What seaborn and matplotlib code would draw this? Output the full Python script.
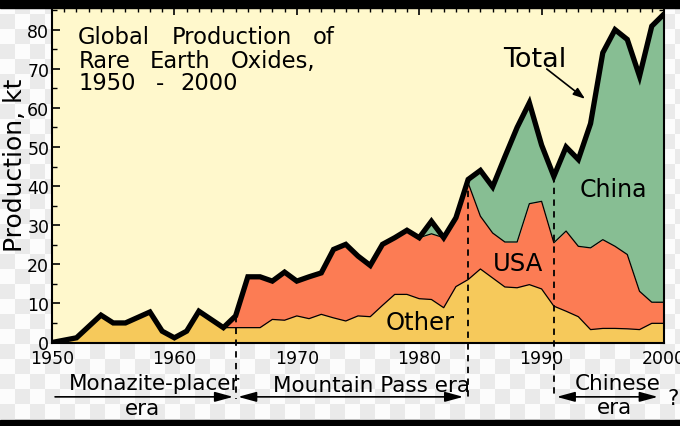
import numpy as np
import matplotlib
matplotlib.use("Agg")
import matplotlib.pyplot as plt
import seaborn as sns
from matplotlib.ticker import MultipleLocator
from matplotlib.patches import Rectangle

# ---------------- data (kt of rare earth oxides) ----------------
years = list(range(1950, 2001))
other = [0.0, 0.6, 1.2, 4.1, 7.0, 5.0, 5.0, 6.4, 7.8, 2.9,
         1.2, 2.9, 8.0, 5.9, 3.8, 3.8, 3.8, 3.8, 5.9, 5.7,
         6.8, 6.1, 7.2, 6.3, 5.5, 6.8, 6.6, 9.5, 12.3, 12.3,
         11.2, 11.0, 8.9, 14.3, 16.1, 18.8, 16.5, 14.2, 14.0, 14.8,
         13.7, 9.3, 8.0, 6.6, 3.3, 3.6, 3.6, 3.5, 3.3, 4.9,
         4.9]
usa = [0.0, 0.0, 0.0, 0.0, 0.0, 0.0, 0.0, 0.0, 0.0, 0.0,
       0.0, 0.0, 0.0, 0.0, 0.0, 3.0, 13.0, 13.0, 9.8, 12.3,
       8.9, 10.7, 10.6, 17.5, 19.6, 15.3, 13.1, 15.6, 14.5, 16.4,
       15.6, 16.8, 17.9, 17.6, 24.7, 13.5, 11.5, 11.5, 11.7, 20.7,
       22.4, 16.2, 20.5, 18.0, 20.9, 22.7, 21.0, 19.0, 9.8, 5.4,
       5.4]
china = [0.0] * 31 + [3.2, 0.0, 0.0, 0.9, 11.7, 11.8, 21.8, 29.3, 25.8,
                      14.4, 17.0, 21.5, 22.2, 31.8, 47.8, 55.4, 55.0, 55.0, 70.6,
                      73.7]
era_bounds = [1965, 1984, 1991]

other_a = np.array(other)
usa_top = other_a + np.array(usa)
total = usa_top + np.array(china)

# ---------------- style ----------------
sns.set_style("ticks")
plt.rcParams["font.family"] = ["DejaVu Sans"]
plt.rcParams["text.color"] = "black"
plt.rcParams["xtick.color"] = "black"
plt.rcParams["ytick.color"] = "black"

c_bg = "#FFF8CC"
c_other = "#F6C95B"
c_usa = "#FC7C54"
c_china = "#87BE93"

W, H = 680, 427
fig = plt.figure(figsize=(W / 100, H / 100), dpi=100)

# transparent-style checkerboard background
yy, xx = np.mgrid[0:H, 0:W]
chk = ((yy // 15 + xx // 15) % 2)[..., None]
img = np.where(chk == 1, 0.92, 0.99) * np.ones((H, W, 3))
fig.figimage(img, 0, 0, zorder=-5)

ax = fig.add_axes([52 / W, (H - 343.5) / H, (664 - 52) / W, (343.5 - 8) / H])
ax.set_zorder(2)
ax.set_facecolor(c_bg)

ax.fill_between(years, 0, other_a, color=c_other, lw=0, zorder=1)
ax.fill_between(years, other_a, usa_top, color=c_usa, lw=0, zorder=1)
ax.fill_between(years, usa_top, total, color=c_china, lw=0, zorder=1)
ax.plot(years, other_a, color="black", lw=0.9, zorder=2)
ax.plot(years, usa_top, color="black", lw=0.9, zorder=2)
sns.lineplot(x=years, y=total, color="black", linewidth=3.8, ax=ax,
             solid_joinstyle="miter", zorder=4)

ax.set_xlim(1950, 2000)
ax.set_ylim(0, 85.8)
ax.set_xlabel("")
ax.set_ylabel("")

ax.xaxis.set_major_locator(MultipleLocator(10))
ax.xaxis.set_minor_locator(MultipleLocator(1))
ax.yaxis.set_major_locator(MultipleLocator(10))
ax.yaxis.set_minor_locator(MultipleLocator(5))
ax.tick_params(which="both", direction="in", top=True, right=True,
               color="black", labelsize=12.5, labelcolor="black")
ax.tick_params(which="major", length=6, width=1.2)
ax.tick_params(which="minor", length=3.5, width=1.0)
ax.tick_params(axis="x", pad=5)
ax.tick_params(axis="y", pad=2)
for s in ax.spines.values():
    s.set_linewidth(1.5)
    s.set_color("black")
    s.set_zorder(5)

# era boundaries (dashed), from the total curve down below the axis
for yr in era_bounds:
    ax.plot([yr, yr], [total[years.index(yr)], -14.45], color="black",
            lw=1.3, ls=(0, (3.5, 3)), clip_on=False, zorder=3)

# labels inside the plot
ax.text(1989.46, 70.8, "Total", fontsize=19.5, ha="center", va="baseline", zorder=6)
ax.annotate("", xy=(1993.55, 62.3), xytext=(1990.42, 69.95),
            arrowprops=dict(arrowstyle="-|>,head_length=0.7,head_width=0.25",
                            color="black", lw=1.2, shrinkA=0, shrinkB=0,
                            mutation_scale=10), zorder=6)
ax.text(1995.9, 37.5, "China", fontsize=17, ha="center", va="baseline", zorder=6)
ax.text(1988.11, 18.6, "USA", fontsize=17.5, ha="center", va="baseline", zorder=6)
ax.text(1980.07, 3.45, "Other", fontsize=17.5, ha="center", va="baseline", zorder=6)

# title block, word by word (fig pixel coordinates, baseline)
title_words = [
    ("Global", 78, 44.3), ("Production", 171.5, 44.3), ("of", 313, 44.3),
    ("Rare", 78.5, 67.7), ("Earth", 149.5, 67.7), ("Oxides,", 231, 67.7),
    ("1950", 78.5, 90.0), ("-", 156, 90.0), ("2000", 180, 90.0),
]
for w, px, py in title_words:
    fig.text(px / W, 1 - py / H, w, fontsize=16.3, ha="left", va="baseline",
             zorder=8)

# y axis label
fig.text(15 / W, 1 - 165 / H, "Production, kt", fontsize=18, rotation=90,
         ha="center", va="center")

# era annotations below the axis
kw = dict(fontsize=15.5, ha="center", va="baseline", clip_on=False)
ax.text(1958.4, -11.9, "Monazite-placer", **kw)
ax.text(1957.4, -18.3, "era", **kw)
ax.text(1976.1, -12.3, "Mountain Pass era", **kw)
ax.text(1996.2, -11.9, "Chinese", **kw)
ax.text(1995.95, -18.1, "era", **kw)
ax.text(2000.76, -15.7, "?", **kw)

ya = -13.9
akw = dict(color="black", lw=1.2, shrinkA=0, shrinkB=0, mutation_scale=10)
ax.annotate("", xy=(1964.8, ya), xytext=(1950.25, ya), annotation_clip=False,
            arrowprops=dict(arrowstyle="-|>,head_length=1.1,head_width=0.3", **akw))
ax.annotate("", xy=(1983.6, ya), xytext=(1965.2, ya), annotation_clip=False,
            arrowprops=dict(arrowstyle="<|-|>,head_length=1.1,head_width=0.3", **akw))
ax.annotate("", xy=(1999.5, ya), xytext=(1991.23, ya), annotation_clip=False,
            arrowprops=dict(arrowstyle="<|-|>,head_length=1.1,head_width=0.3", **akw))

# screenshot bars at top and bottom
fig.patches.append(Rectangle((0, 1 - 9 / H), 1, 9 / H, transform=fig.transFigure,
                             color="black", zorder=10))
fig.patches.append(Rectangle((0, 0), 1, 6 / H, transform=fig.transFigure,
                             color="black", zorder=10))

fig.savefig("out.png", dpi=100)
